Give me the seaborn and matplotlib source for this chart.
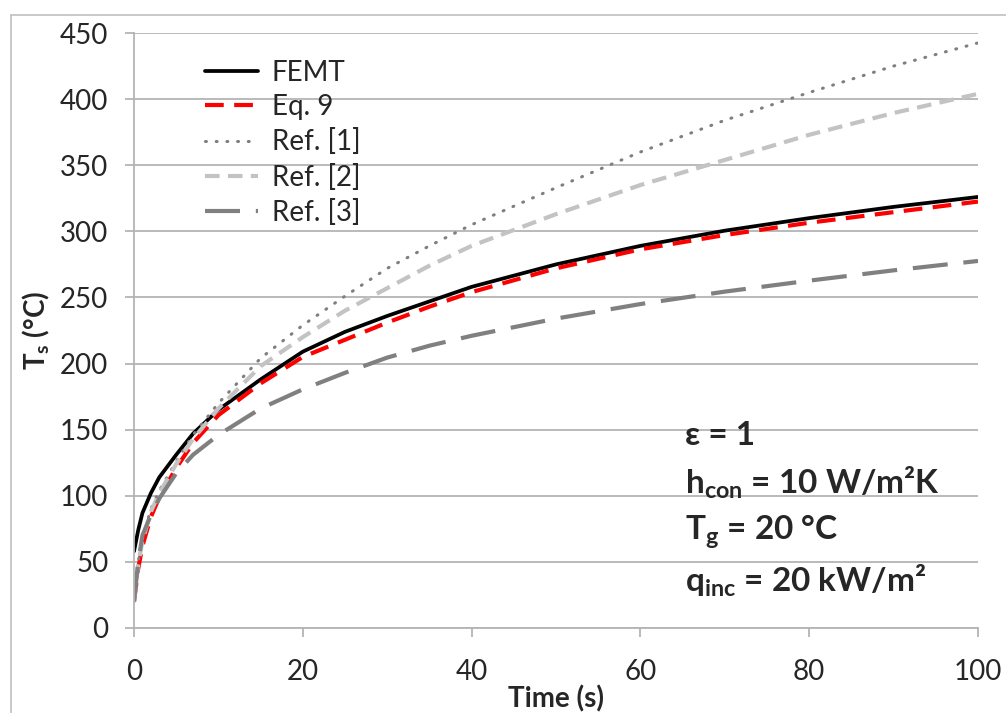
import matplotlib
matplotlib.use("Agg")
import matplotlib.pyplot as plt
from matplotlib.lines import Line2D
import pandas as pd
import seaborn as sns

# values
time_s = [0, 0.5, 1, 2, 3, 5, 7, 10, 15, 20, 25, 30, 35, 40, 50, 60, 70, 80, 90, 100]
femt = [58, 74, 87, 102, 114, 131, 147, 165, 188, 209, 224, 236, 247, 258, 275, 289, 300.5, 310, 318.5, 326]
eq9 = [20, 45, 62, 84, 99, 121, 140, 161, 185, 205, 218, 231, 243, 254, 272, 286.4, 297.2, 306.5, 314.5, 322.5]
ref1 = [20, 50, 68, 90, 104, 126, 146, 170, 204, 229, 251, 272, 289, 305, 333, 360, 384, 405, 425, 442.5]
ref2 = [20, 48, 66, 88, 102, 124, 143, 166, 198, 220, 240, 257, 274, 289, 313, 335, 354, 373, 389.5, 404]
ref3 = [20, 50, 70, 85.5, 98, 117, 131, 146, 166, 180.5, 193, 204.5, 213.5, 221, 234, 245, 254.4, 262.7, 270.5, 277.6]

series = ["FEMT", "Eq. 9", "Ref. [1]", "Ref. [2]", "Ref. [3]"]
notes = [r"ε = 1", r"h$_{con}$ = 10 W/m²K", r"T$_{g}$ = 20 °C", r"q$_{inc}$ = 20 kW/m²"]

df = pd.DataFrame({"time": time_s, "FEMT": femt, "Eq. 9": eq9,
                   "Ref. [1]": ref1, "Ref. [2]": ref2, "Ref. [3]": ref3})
df = df.melt(id_vars="time", var_name="series", value_name="temp")

sns.set_style("white")
plt.rcParams["font.family"] = ["Lato", "DejaVu Sans"]
plt.rcParams["mathtext.fontset"] = "custom"
plt.rcParams["mathtext.rm"] = "Lato"
plt.rcParams["mathtext.bf"] = "Lato:bold"
plt.rcParams["mathtext.default"] = "bf"

styles = {
    "FEMT": dict(color="black", lw=2.7, ls="-"),
    "Eq. 9": dict(color="#ff0000", lw=3.0, ls=(0, (4.5, 2.5))),
    "Ref. [1]": dict(color="#7f7f7f", lw=2.2, ls=(0, (0.3, 3.2)), dash_capstyle="round"),
    "Ref. [2]": dict(color="#c3c3c3", lw=3.0, ls=(0, (3.5, 2.0))),
    "Ref. [3]": dict(color="#808080", lw=3.0, ls=(0, (8.4, 3.8))),
}

fig = plt.figure(figsize=(10.06, 7.13), dpi=100)
ax = fig.add_axes([134 / 1006, 1 - 628 / 713, 844 / 1006, 595 / 713])

for name in series:
    sub = df[df["series"] == name]
    sns.lineplot(data=sub, x="time", y="temp", label=name, ax=ax, **styles[name])

ax.set_xlim(0, 100)
ax.set_ylim(0, 450)
ax.set_xticks(range(0, 101, 20))
ax.set_yticks(range(0, 451, 50))

grey = "#b4b4b4"
ax.yaxis.grid(True, color=grey, lw=1.3)
ax.xaxis.grid(False)
for side in ["top", "right"]:
    ax.spines[side].set_visible(False)
for side in ["left", "bottom"]:
    ax.spines[side].set_color(grey)
    ax.spines[side].set_linewidth(1.3)
ax.tick_params(axis="y", direction="out", length=6.5, width=1.3, color=grey,
               labelsize=20, pad=12, left=True)
ax.tick_params(axis="x", direction="out", length=6.5, width=1.3, color=grey,
               labelsize=20, pad=16, bottom=True)

ax.set_xlabel("Time (s)", fontsize=20, fontweight="bold", va="top")
ax.xaxis.set_label_coords(0.5, -0.097)
ax.set_ylabel("T$_{s}$ (°C)", fontsize=20, fontweight="bold")
ax.yaxis.set_label_coords(-0.097, 0.5)

ax.legend(loc="upper left", bbox_to_anchor=(0.084, 0.955), frameon=False,
          fontsize=20, handlelength=1.9, handletextpad=0.5, labelspacing=0.3,
          borderpad=0, borderaxespad=0)

ys = [0.3076, 0.225, 0.148, 0.0605]
for txt, y in zip(notes, ys):
    ax.text(0.653, y, txt, transform=ax.transAxes, fontsize=24,
            fontweight="bold", va="baseline", ha="left")

# outer chart frame (left and top edges visible)
fig.add_artist(Line2D([10.5 / 1006, 10.5 / 1006], [0, 1 - 14.5 / 713],
                      transform=fig.transFigure, color="#c0c0c0", lw=1.2))
fig.add_artist(Line2D([10.5 / 1006, 1], [1 - 14.5 / 713, 1 - 14.5 / 713],
                      transform=fig.transFigure, color="#c0c0c0", lw=1.2))

plt.savefig("out.png", dpi=100)
